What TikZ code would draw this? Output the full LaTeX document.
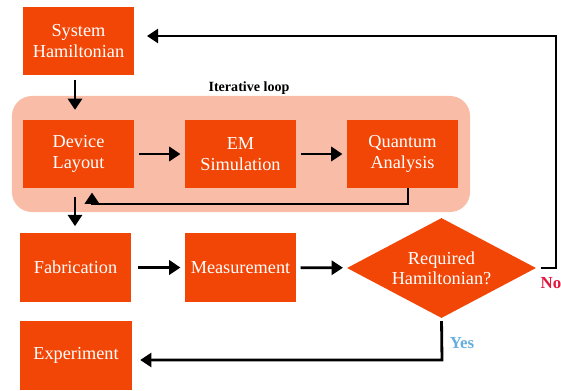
\documentclass[tikz,border=0pt]{standalone}
\usepackage{fontspec}
\setmainfont{Liberation Serif}
\usepackage{xcolor}
\usetikzlibrary{shapes.geometric, arrows.meta, positioning}

\definecolor{boxorange}{HTML}{F24607}
\definecolor{loopfill}{HTML}{F9BDA7}
\definecolor{nored}{HTML}{E3173E}
\definecolor{yesblue}{HTML}{67AEDF}

\tikzset{
  stagebox/.style={rectangle, fill=boxorange, text=white, align=center,
    minimum width=2.775cm, minimum height=1.7cm, inner sep=0pt,
    font=\fontsize{13}{14.5}\selectfont},
  decisionbox/.style={diamond, aspect=1.9, fill=boxorange, text=white, align=center,
    minimum width=4.725cm, minimum height=2.5cm, inner sep=0pt,
    font=\fontsize{13}{14.5}\selectfont},
  loopbox/.style={rectangle, fill=loopfill, rounded corners=0.5cm,
    minimum width=11.45cm, minimum height=2.9cm},
  flow/.style={line width=2pt, -{Triangle[length=8pt, width=10pt]}},
  answer/.style={font=\fontsize{12}{14}\selectfont\bfseries}
}

\begin{document}
\begin{tikzpicture}[x=0.025cm, y=-0.025cm]
  \useasboundingbox (0,0) rectangle (561,390);
  \node[loopbox] (loop) at (241,154) {};
  \node[font=\fontsize{10}{12}\selectfont\bfseries] (looplabel) at (249,88) {Iterative loop};

  \node[stagebox] (sysham) at (78.5,41) {System\\Hamiltonian};
  \node[stagebox] (layout) at (78.5,154) {Device\\Layout};
  \node[stagebox] (emsim) at (240.5,154) {EM\\Simulation};
  \node[stagebox] (qanal) at (402.5,154) {Quantum\\Analysis};
  \node[stagebox] (fab) at (75.5,267.5) {Fabrication};
  \node[stagebox] (meas) at (240.5,267.5) {Measurement};
  \node[decisionbox] (check) at (441.5,268) {Required\\Hamiltonian?};
  \node[stagebox] (expt) at (76,355.5) {Experiment};

  \coordinate (loopR) at (408,204);
  \coordinate (loopL) at (92,204);
  \coordinate (noC) at (556,36);
  \coordinate (yesC) at (442,360);

  \draw[flow, shorten <=3pt, shorten >=7pt] (sysham.south -| 75,0) -- (layout.north -| 75,0);
  \draw[flow, shorten <=3.5pt, shorten >=3pt] (layout) -- (emsim);
  \draw[flow, shorten <=3.5pt, shorten >=3pt] (emsim) -- (qanal);
  \draw[flow, shorten >=3pt] (qanal.south -| loopR) -- (loopR) -- (loopL) -- (loopL |- layout.south);
  \draw[flow, shorten <=6pt, shorten >=5pt] (layout.south -| 75,0) -- (fab.north -| 75,0);
  \draw[flow, shorten <=5pt, shorten >=3pt] (fab) -- (meas);
  \draw[flow, shorten <=3pt, shorten >=3pt] (meas) -- (check);
  \draw[flow, shorten <=3pt, shorten >=9pt] (check.east) -| (noC) -- (noC -| sysham.east);
  \draw[flow, shorten <=2pt, shorten >=6pt] (check.south) -- (yesC) -- (yesC -| expt.east);

  \node[answer, text=nored] (nolabel) at (551,283) {No};
  \node[answer, text=yesblue] (yeslabel) at (462,343) {Yes};
\end{tikzpicture}
\end{document}
